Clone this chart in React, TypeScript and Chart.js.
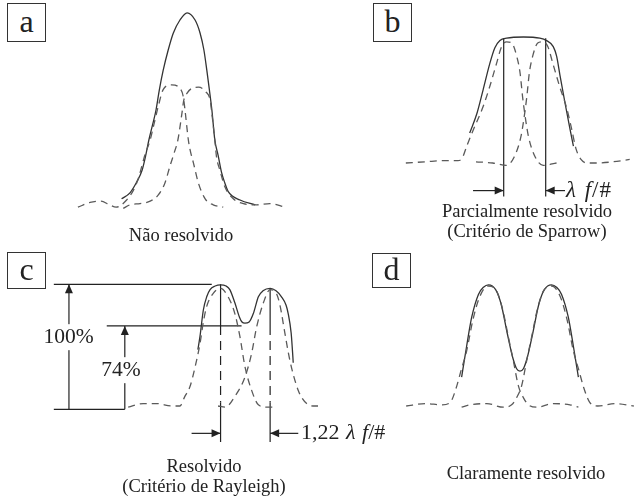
import React, { useEffect, useRef } from "react";
import { Chart, registerables } from "chart.js";

Chart.register(...registerables);

type Pt = [number, number];

// x: image-plane position (units of λ f/#), y: relative irradiance (single PSF peak ≈ 1)

// Panel a — not resolved
const aLeftPsf: Pt[] = [[-2.55, -0.01], [-2.26, 0.03], [-2.0, 0.04], [-1.8, 0.01], [-1.64, -0.01], [-1.39, 0.05], [-1.23, 0.13], [-1.11, 0.23], [-1.03, 0.33], [-0.95, 0.43], [-0.83, 0.55], [-0.74, 0.68], [-0.63, 0.84], [-0.52, 0.97], [-0.32, 1.01], [-0.12, 0.98], [-0.04, 0.91], [0.0, 0.8], [0.08, 0.55], [0.12, 0.47], [0.2, 0.36], [0.32, 0.19], [0.48, 0.06], [0.67, 0.01], [0.91, -0.01]];
const aRightPsf: Pt[] = [[-1.47, -0.02], [-1.31, 0.01], [-1.07, 0.02], [-0.83, 0.04], [-0.64, 0.09], [-0.48, 0.19], [-0.36, 0.33], [-0.26, 0.44], [-0.17, 0.55], [-0.07, 0.78], [-0.03, 0.88], [0.05, 0.94], [0.16, 0.98], [0.32, 0.99], [0.5, 0.95], [0.6, 0.88], [0.64, 0.77], [0.71, 0.55], [0.75, 0.41], [0.83, 0.3], [0.95, 0.16], [1.15, 0.06], [1.39, 0.02], [1.71, 0.01], [2.02, 0.02], [2.38, -0.01]];
const aSum: Pt[] = [[-1.51, 0.06], [-1.31, 0.11], [-1.15, 0.2], [-1.02, 0.3], [-0.93, 0.43], [-0.86, 0.55], [-0.77, 0.68], [-0.69, 0.8], [-0.61, 0.97], [-0.52, 1.13], [-0.4, 1.3], [-0.28, 1.44], [-0.12, 1.55], [0.05, 1.61], [0.24, 1.55], [0.36, 1.44], [0.45, 1.3], [0.52, 1.13], [0.58, 0.97], [0.64, 0.8], [0.71, 0.55], [0.79, 0.42], [0.87, 0.28], [0.95, 0.19], [1.03, 0.12], [1.31, 0.05], [1.67, 0.01]];

// Panel b — partially resolved (Sparrow)
const bLeftPsf: Pt[] = [[-2.83, 0.0], [-2.37, 0.01], [-1.9, 0.02], [-1.59, 0.02], [-1.49, 0.04], [-1.37, 0.15], [-1.22, 0.28], [-0.99, 0.47], [-0.83, 0.64], [-0.67, 0.83], [-0.55, 0.97], [-0.43, 1.01], [-0.31, 1.0], [-0.19, 0.89], [-0.11, 0.75], [-0.05, 0.55], [0.01, 0.39], [0.09, 0.22], [0.25, 0.05], [0.44, -0.02], [0.76, 0.0]];
const bRightPsf: Pt[] = [[-1.16, 0.01], [-0.76, 0.0], [-0.44, -0.02], [-0.25, 0.05], [-0.09, 0.22], [-0.01, 0.39], [0.05, 0.55], [0.11, 0.75], [0.19, 0.89], [0.31, 1.0], [0.43, 1.01], [0.55, 0.97], [0.67, 0.83], [0.83, 0.64], [0.99, 0.47], [1.12, 0.28], [1.22, 0.12], [1.34, 0.03], [1.49, 0.0], [1.71, 0.0], [2.1, 0.01], [2.5, 0.03]];
const bSum: Pt[] = [[-1.31, 0.25], [-1.14, 0.41], [-0.99, 0.61], [-0.83, 0.83], [-0.71, 0.96], [-0.59, 1.02], [-0.43, 1.04], [-0.03, 1.05], [0.36, 1.04], [0.52, 1.02], [0.68, 0.97], [0.76, 0.89], [0.84, 0.73], [0.96, 0.5], [1.08, 0.28], [1.16, 0.14]];
const bCenters = [-0.5, 0.5];
const bMarkTop = 1.04;
const bMarkBottom = -0.28;
const bArrowLevel = -0.23;
const bArrowTails = [-1.23, 0.96];

// Panel c — resolved (Rayleigh)
const cLeftPsf: Pt[] = [[-2.79, -0.01], [-2.43, 0.02], [-2.11, 0.02], [-1.75, 0.0], [-1.56, 0.0], [-1.44, 0.08], [-1.32, 0.16], [-1.2, 0.32], [-1.08, 0.52], [-1.0, 0.7], [-0.92, 0.83], [-0.76, 0.94], [-0.59, 0.98], [-0.41, 0.91], [-0.25, 0.77], [-0.13, 0.58], [-0.01, 0.33], [0.15, 0.13], [0.31, 0.01], [0.51, -0.01], [0.7, -0.01]];
const cRightPsf: Pt[] = [[-0.65, 0.0], [-0.48, -0.01], [-0.25, 0.08], [-0.01, 0.24], [0.15, 0.44], [0.27, 0.66], [0.43, 0.86], [0.59, 0.97], [0.75, 0.93], [0.83, 0.83], [0.94, 0.61], [1.06, 0.38], [1.26, 0.13], [1.46, 0.02], [1.66, 0.0], [2.01, 0.0], [2.3, -0.01], [2.56, -0.02]];
const cSum: Pt[] = [[-1.13, 0.47], [-1.08, 0.58], [-1.0, 0.8], [-0.92, 0.91], [-0.84, 0.97], [-0.72, 1.0], [-0.59, 1.01], [-0.46, 1.0], [-0.37, 0.97], [-0.25, 0.86], [-0.14, 0.74], [-0.08, 0.7], [-0.01, 0.69], [0.09, 0.7], [0.19, 0.77], [0.31, 0.91], [0.42, 0.96], [0.59, 0.98], [0.73, 0.96], [0.86, 0.91], [0.97, 0.84], [1.02, 0.77], [1.09, 0.61], [1.12, 0.47], [1.14, 0.36]];
const cCenters = [-0.59, 0.59];
const cCenterTops = [1.014, 0.975];
const cPeakLevel = 1.014;
const cDipLevel = 0.667;
const cBaseLevel = -0.028;
const cMarkBottom = -0.3;
const cArrowLevel = -0.228;
const cArrowTails = [-1.28, 1.26];
const cTopRule: Pt = [-4.56, -0.8];
const cDipRule: Pt = [-3.3, -0.09];
const cBaseRule: Pt = [-4.56, -2.87];
const cArrow100X = -4.2;
const cArrow74X = -2.87;

// Panel d — clearly resolved
const dLeftPsf: Pt[] = [[-2.71, 0.0], [-2.26, 0.02], [-1.85, 0.01], [-1.66, 0.03], [-1.52, 0.15], [-1.4, 0.3], [-1.27, 0.46], [-1.12, 0.72], [-0.96, 0.91], [-0.76, 1.0], [-0.56, 0.96], [-0.41, 0.8], [-0.28, 0.58], [-0.16, 0.38], [-0.04, 0.17], [0.08, 0.07], [0.2, 0.01], [0.4, -0.01], [0.79, 0.02], [1.19, 0.01], [1.39, -0.01]];
const dRightPsf: Pt[] = [[-1.39, -0.01], [-1.19, 0.01], [-0.79, 0.02], [-0.4, -0.01], [-0.2, 0.01], [-0.08, 0.07], [0.04, 0.17], [0.16, 0.38], [0.28, 0.58], [0.41, 0.8], [0.56, 0.96], [0.76, 1.0], [0.96, 0.91], [1.12, 0.72], [1.27, 0.46], [1.4, 0.3], [1.52, 0.15], [1.66, 0.03], [1.85, 0.0], [2.26, 0.02], [2.71, 0.0]];
const dSum: Pt[] = [[-1.39, 0.24], [-1.27, 0.5], [-1.15, 0.74], [-0.99, 0.93], [-0.87, 0.99], [-0.75, 1.01], [-0.58, 0.97], [-0.45, 0.85], [-0.3, 0.6], [-0.17, 0.4], [-0.08, 0.31], [0.0, 0.29], [0.08, 0.31], [0.17, 0.4], [0.3, 0.6], [0.45, 0.85], [0.58, 0.97], [0.75, 1.01], [0.87, 0.99], [0.99, 0.93], [1.15, 0.74], [1.27, 0.5], [1.39, 0.24]];

// ---------- styling / layout ----------
const FONT = "'Liberation Serif', 'Times New Roman', serif";
const SOLID = "#333";
const DASHED = "#5a5a5a";
const RULE = "#222";
const PX_PER_X = 42;
const PX_PER_Y = 120;
const PANEL_W = 318;
const PANEL_H = 250;

type Style = "curve" | "dash" | "rule" | "ruleDash" | "arrow";

function ds(points: Pt[], style: Style): any {
  const base: any = {
    data: points.map(([x, y]) => ({ x, y })),
    pointRadius: 0,
    fill: false,
    clip: false,
    borderCapStyle: "butt",
  };
  if (style === "curve") return { ...base, borderColor: SOLID, borderWidth: 1.3, cubicInterpolationMode: "monotone" };
  if (style === "dash") return { ...base, borderColor: DASHED, borderWidth: 1.3, borderDash: [7, 5], cubicInterpolationMode: "monotone" };
  if (style === "ruleDash") return { ...base, borderColor: RULE, borderWidth: 1.2, borderDash: [9, 6], tension: 0 };
  if (style === "arrow") return { ...base, borderColor: RULE, borderWidth: 1.2, tension: 0, arrow: true };
  return { ...base, borderColor: RULE, borderWidth: 1.2, tension: 0 };
}

const arrowPlugin = {
  id: "arrowHeads",
  afterDatasetsDraw(chart: any) {
    const ctx = chart.ctx;
    chart.data.datasets.forEach((d: any, i: number) => {
      if (!d.arrow) return;
      const pts = chart.getDatasetMeta(i).data;
      if (pts.length < 2) return;
      const p1 = pts[pts.length - 2];
      const p2 = pts[pts.length - 1];
      const a = Math.atan2(p2.y - p1.y, p2.x - p1.x);
      const L = 9;
      const W = 4;
      const c = Math.cos(a);
      const s = Math.sin(a);
      ctx.save();
      ctx.fillStyle = d.borderColor;
      ctx.beginPath();
      ctx.moveTo(p2.x, p2.y);
      ctx.lineTo(p2.x - L * c - W * s, p2.y - L * s + W * c);
      ctx.lineTo(p2.x - L * c + W * s, p2.y - L * s - W * c);
      ctx.closePath();
      ctx.fill();
      ctx.restore();
    });
  },
};

function Panel({ left, top, cx, yb, datasets }: { left: number; top: number; cx: number; yb: number; datasets: any[] }) {
  const ref = useRef<HTMLCanvasElement | null>(null);
  useEffect(() => {
    if (!ref.current) return;
    const chart = new Chart(ref.current, {
      type: "line",
      data: { datasets },
      options: {
        animation: false,
        responsive: false,
        devicePixelRatio: 1,
        events: [],
        layout: { padding: 0 },
        plugins: { legend: { display: false }, tooltip: { enabled: false } },
        scales: {
          x: { type: "linear", display: false, min: (left - cx) / PX_PER_X, max: (left + PANEL_W - cx) / PX_PER_X },
          y: { type: "linear", display: false, min: (yb - (top + PANEL_H)) / PX_PER_Y, max: (yb - top) / PX_PER_Y },
        },
      } as any,
      plugins: [arrowPlugin as any],
    });
    return () => chart.destroy();
  }, []);
  return (
    <canvas
      ref={ref}
      width={PANEL_W}
      height={PANEL_H}
      style={{ position: "absolute", left, top, width: PANEL_W, height: PANEL_H, display: "block" }}
    />
  );
}

function Label({ x, y, text, size = 18.5, align = "center", bg = false, letterSpacing = 0, wordSpacing = 0 }: { x: number; y: number; text: React.ReactNode; size?: number; align?: "center" | "left"; bg?: boolean; letterSpacing?: number; wordSpacing?: number }) {
  return (
    <div
      style={{
        position: "absolute",
        left: x,
        top: y,
        transform: align === "center" ? "translate(-50%, -50%)" : "translate(0, -50%)",
        fontFamily: FONT,
        fontSize: size,
        lineHeight: 1.1,
        whiteSpace: "nowrap",
        color: "#222",
        background: bg ? "#fff" : "transparent",
        padding: bg ? "1px 0" : 0,
        textAlign: "center",
        letterSpacing,
        wordSpacing,
      }}
    >
      {text}
    </div>
  );
}

function Tag({ x, y, w, h, letter }: { x: number; y: number; w: number; h: number; letter: string }) {
  return (
    <div
      style={{
        position: "absolute",
        left: x,
        top: y,
        width: w,
        height: h,
        boxSizing: "border-box",
        border: "1px solid #333",
        fontFamily: FONT,
        fontSize: 32,
        lineHeight: `${h - 4}px`,
        textAlign: "center",
        color: "#222",
        background: "#fff",
      }}
    >
      {letter}
    </div>
  );
}

const seg = (x: number, y1: number, y2: number): Pt[] => [[x, y1], [x, y2]];
const hseg = (y: number, xs: Pt): Pt[] => [[xs[0], y], [xs[1], y]];

export default function App() {
  const aSets = [ds(aLeftPsf, "dash"), ds(aRightPsf, "dash"), ds(aSum, "curve")];

  const bSets = [
    ds(bLeftPsf, "dash"),
    ds(bRightPsf, "dash"),
    ds(bSum, "curve"),
    ds(seg(bCenters[0], bMarkTop, bMarkBottom), "rule"),
    ds(seg(bCenters[1], bMarkTop, bMarkBottom), "rule"),
    ds(hseg(bArrowLevel, [bArrowTails[0], bCenters[0]]), "arrow"),
    ds(hseg(bArrowLevel, [bArrowTails[1], bCenters[1]]), "arrow"),
  ];

  const cSets = [
    ds(cLeftPsf, "dash"),
    ds(cRightPsf, "dash"),
    ds(cSum, "curve"),
    ds(hseg(cPeakLevel, cTopRule), "rule"),
    ds(hseg(cDipLevel, cDipRule), "rule"),
    ds(hseg(cBaseLevel, cBaseRule), "rule"),
    ds(seg(cArrow100X, cBaseLevel, cPeakLevel), "arrow"),
    ds(seg(cArrow74X, cBaseLevel, cDipLevel), "arrow"),
    ...cCenters.flatMap((x, i) => [
      ds(seg(x, cCenterTops[i], cDipLevel), "rule"),
      ds(seg(x, cDipLevel, 0.03), "ruleDash"),
      ds(seg(x, 0.03, cMarkBottom), "rule"),
    ]),
    ds(hseg(cArrowLevel, [cArrowTails[0], cCenters[0]]), "arrow"),
    ds(hseg(cArrowLevel, [cArrowTails[1], cCenters[1]]), "arrow"),
  ];

  const dSets = [ds(dLeftPsf, "dash"), ds(dRightPsf, "dash"), ds(dSum, "curve")];

  return (
    <div style={{ position: "absolute", left: 0, top: 0, width: 636, height: 500, background: "#fff", overflow: "hidden" }}>
      <Panel left={0} top={0} cx={185} yb={206} datasets={aSets} />
      <Panel left={318} top={0} cx={524.7} yb={163} datasets={bSets} />
      <Panel left={0} top={250} cx={245.35} yb={406} datasets={cSets} />
      <Panel left={318} top={250} cx={520} yb={406} datasets={dSets} />

      <Tag x={7} y={3} w={39} h={39} letter="a" />
      <Tag x={373} y={3} w={39} h={39} letter="b" />
      <Tag x={7} y={252} w={39} h={37} letter="c" />
      <Tag x={372} y={253} w={39} h={35} letter="d" />

      <Label x={181} y={235} text="Não resolvido" />
      <Label x={527} y={221} text={<>Parcialmente resolvido<br />(Critério de Sparrow)</>} size={18.5} />
      <Label x={204} y={476} text={<>Resolvido<br />(Critério de Rayleigh)</>} size={18.5} />
      <Label x={526} y={473} text="Claramente resolvido" />

      <Label x={566} y={190} align="left" text={<><i>λ f</i>/#</>} size={23} letterSpacing={1} wordSpacing={1} />
      <Label x={301} y={432} align="left" text={<>1,22 <i>λ f</i>/#</>} size={22} wordSpacing={1} />
      <Label x={68.5} y={337} text="100%" size={21.5} bg />
      <Label x={121} y={370} text="74%" size={21.5} bg />
    </div>
  );
}
